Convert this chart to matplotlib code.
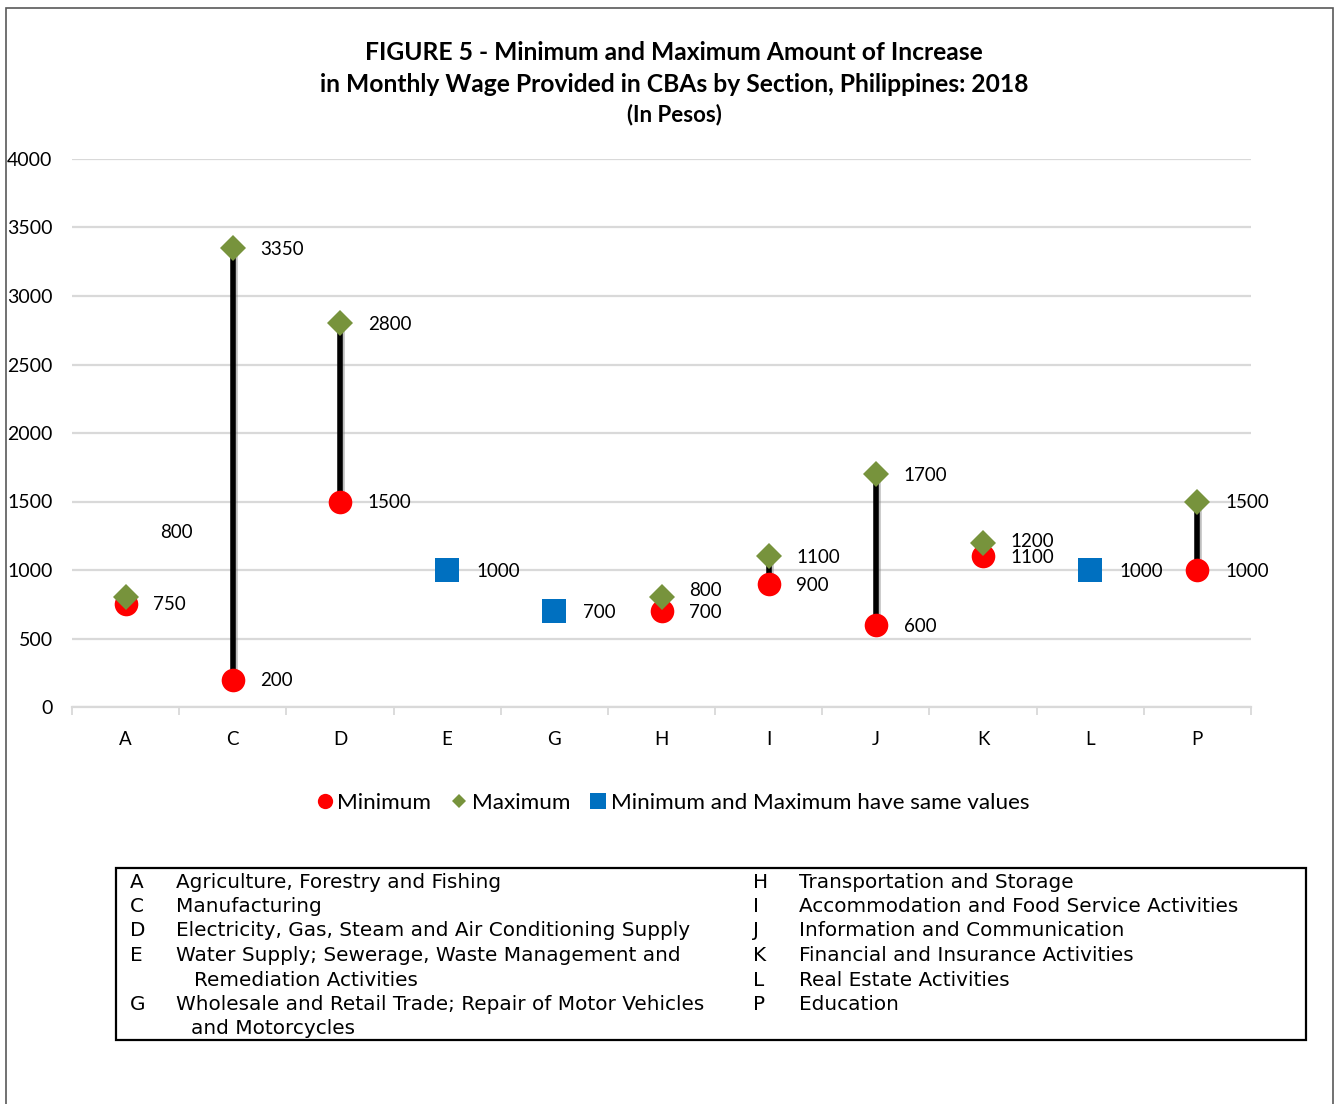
import matplotlib
matplotlib.use("Agg")
import matplotlib.pyplot as plt
from matplotlib.lines import Line2D
from matplotlib.patches import Rectangle
import matplotlib.patheffects as pe
import numpy as np

# Sections and wage increases (pesos)
sections = ["A", "C", "D", "E", "G", "H", "I", "J", "K", "L", "P"]
minimum = [750, 200, 1500, None, None, 700, 900, 600, 1100, None, 1000]
maximum = [800, 3350, 2800, None, None, 800, 1100, 1700, 1200, None, 1500]
same_value = [None, None, None, 1000, 700, None, None, None, None, 1000, None]

# Label offsets in points (dx, dy) for the value tags
min_label_offset = {"A": (20, 0), "C": (20, -1), "D": (20, -1), "H": (20, -1),
                    "I": (20, -1), "J": (20, -1), "K": (20, -1), "P": (20, -1)}
max_label_offset = {"A": (25, 47), "C": (20, -1), "D": (20, -1), "H": (20, 5),
                    "I": (20, -1), "J": (20, -1), "K": (20, 1), "P": (20, -1)}

section_names_left = [
    ("A", "Agriculture, Forestry and Fishing", 176),
    ("C", "Manufacturing", 176),
    ("D", "Electricity, Gas, Steam and Air Conditioning Supply", 176),
    ("E", "Water Supply; Sewerage, Waste Management and", 176),
    ("", "Remediation Activities", 194),
    ("G", "Wholesale and Retail Trade; Repair of Motor Vehicles", 176),
    ("", "and Motorcycles", 191),
]
section_names_right = [
    ("H", "Transportation and Storage"),
    ("I", "Accommodation and Food Service Activities"),
    ("J", "Information and Communication"),
    ("K", "Financial and Insurance Activities"),
    ("L", "Real Estate Activities"),
    ("P", "Education"),
]

W, H = 1338, 1104
fig = plt.figure(figsize=(W / 100, H / 100), dpi=100)
fig.patch.set_facecolor("white")

def fx(px):
    return px / W

def fy(py):
    return 1 - py / H

ax = fig.add_axes([fx(72), fy(707), fx(1251) - fx(72), fy(159) - fy(707)])
x = np.arange(len(sections))
ax.set_xlim(-0.5, len(sections) - 0.5)
ax.set_ylim(0, 4000)
ax.set_yticks(np.arange(0, 4001, 500))
ax.yaxis.grid(True, color="#d9d9d9", linewidth=1.6)
ax.set_axisbelow(True)
for s in ["top", "right", "left"]:
    ax.spines[s].set_visible(False)
ax.spines["bottom"].set_color("#d9d9d9")
ax.spines["bottom"].set_linewidth(1.6)

ax.set_xticks(x)
ax.set_xticklabels(sections, fontfamily="Lato", fontsize=13.5)
ax.set_xticks(np.arange(-0.5, len(sections), 1), minor=True)
ax.tick_params(axis="x", which="major", length=0, pad=17.5)
ax.tick_params(axis="x", which="minor", length=6, color="#d9d9d9", width=1.3)
ax.tick_params(axis="y", length=0, pad=14)
for lab in ax.get_yticklabels():
    lab.set_fontfamily("Lato")
    lab.set_fontsize(14)

red = "#ff0000"
green = "#77933c"
blue = "#0070c0"
label_font = dict(fontfamily="Lato", fontsize=13.5, color="black")

for i, sec in enumerate(sections):
    lo, hi = minimum[i], maximum[i]
    if lo is not None and hi is not None:
        ax.plot([i, i], [lo, hi], color="black", linewidth=4, zorder=3,
                solid_capstyle="butt",
                path_effects=[pe.SimpleLineShadow(offset=(1.5, -1.5), shadow_color="gray", alpha=0.5),
                              pe.Normal()])
        ax.plot(i, lo, "o", color=red, markersize=17, markeredgewidth=0, zorder=4)
        ax.plot(i, hi, "D", color=green, markersize=13, markeredgewidth=0, zorder=5)
        dx, dy = min_label_offset[sec]
        ax.annotate(f"{lo}", (i, lo), xytext=(dx, dy), textcoords="offset points",
                    ha="left", va="center", **label_font)
        dx, dy = max_label_offset[sec]
        ax.annotate(f"{hi}", (i, hi), xytext=(dx, dy), textcoords="offset points",
                    ha="left", va="center", **label_font)
    if same_value[i] is not None:
        v = same_value[i]
        ax.plot(i, v, "s", color=blue, markersize=17, markeredgewidth=0, zorder=4)
        ax.annotate(f"{v}", (i, v), xytext=(21, -1), textcoords="offset points",
                    ha="left", va="center", **label_font)

# Title
title_kw = dict(ha="center", va="center", fontfamily="Lato", fontweight="bold", color="black")
fig.text(fx(674), fy(52), "FIGURE 5 - Minimum and Maximum Amount of Increase", fontsize=17.7, **title_kw)
fig.text(fx(674), fy(84), "in Monthly Wage Provided in CBAs by Section, Philippines: 2018", fontsize=17.7, **title_kw)
fig.text(fx(674), fy(115), "(In Pesos)", fontsize=16, **title_kw)

# Marker legend
handles = [
    Line2D([], [], marker="o", color=red, linestyle="none", markersize=11, markeredgewidth=0),
    Line2D([], [], marker="D", color=green, linestyle="none", markersize=7, markeredgewidth=0),
    Line2D([], [], marker="s", color=blue, linestyle="none", markersize=11, markeredgewidth=0),
]
fig.legend(handles, ["Minimum", "Maximum", "Minimum and Maximum have same values"],
           loc="center", bbox_to_anchor=(fx(672), fy(803)), ncol=3, frameon=False,
           prop={"family": "Lato", "size": 16.2}, handletextpad=0.1, columnspacing=0.8,
           handlelength=0.9)

# Section key box
fig.patches.append(Rectangle((fx(116), fy(1040)), fx(1306) - fx(116), fy(868) - fy(1040),
                             transform=fig.transFigure, fill=False, edgecolor="black",
                             linewidth=1.6))
key_kw = dict(fontfamily="DejaVu Sans", fontsize=14.4, va="center", ha="left", color="black")
row_y = [882, 906.5, 931, 955.5, 980, 1004.5, 1029]
for (code, name, xpos), yy in zip(section_names_left, row_y):
    fig.text(fx(130), fy(yy), code, **key_kw)
    fig.text(fx(xpos), fy(yy), name, **key_kw)
for (code, name), yy in zip(section_names_right, row_y):
    fig.text(fx(753), fy(yy), code, **key_kw)
    fig.text(fx(799), fy(yy), name, **key_kw)

# Outer frame
fig.patches.append(Rectangle((fx(6), -0.01), fx(1333) - fx(6), fy(8) + 0.01,
                             transform=fig.transFigure, fill=False, edgecolor="#595959",
                             linewidth=1.2))

fig.savefig("out.png", dpi=100, facecolor="white")
